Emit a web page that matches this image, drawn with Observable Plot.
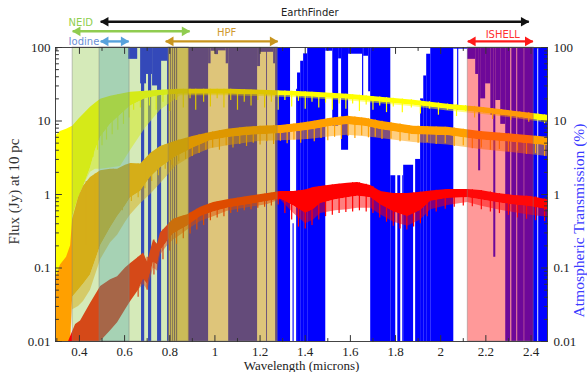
<!DOCTYPE html>
<html><head><meta charset="utf-8">
<script src="https://cdn.jsdelivr.net/npm/d3@7"></script>
<script src="https://cdn.jsdelivr.net/npm/@observablehq/plot@0.6"></script>
<style>body{margin:0;background:#fff;}</style>
</head><body><div id="chart"></div>
<script>
// ---------------- data ----------------
const xTicks = [0.4, 0.6, 0.8, 1.0, 1.2, 1.4, 1.6, 1.8, 2.0, 2.2, 2.4];
const xTickLabels = ["0.4", "0.6", "0.8", "1", "1.2", "1.4", "1.6", "1.8", "2", "2.2", "2.4"];
const xMinorTicks = [0.3, 0.5, 0.7, 0.9, 1.1, 1.3, 1.5, 1.7, 1.9, 2.1, 2.3];
const yTicks = [0.01, 0.1, 1, 10, 100];
const yTickLabels = ["0.01", "0.1", "1", "10", "100"];
const yMinorTicks = [0.02,0.03,0.04,0.05,0.06,0.07,0.08,0.09,0.2,0.3,0.4,0.5,0.6,0.7,0.8,0.9,2,3,4,5,6,7,8,9,20,30,40,50,60,70,80,90];

// instrument wavelength coverage (microns)
const instruments = ["NEID", "Iodine", "HPF", "ISHELL"];
const instStart = [0.370, 0.489, 0.795, 2.120];
const instEnd = [0.884, 0.622, 1.278, 2.412];

// annotation arrows (microns)
const arrowNames = ["EarthFinder", "NEID", "Iodine", "HPF", "ISHELL"];
const arrowFrom = [0.494, 0.370, 0.494, 0.782, 2.120];
const arrowTo = [2.390, 0.888, 0.618, 1.278, 2.408];

// atmospheric transmission (%): [w0, w1, low, high] blocks of the dense spectrum
const telluric = [
  [0.618,0.658,69,100],[0.671,0.697,32,100],[0.697,0.724,43,100],[0.724,0.759,30,100],[0.759,0.790,65,100],
  [0.675,0.689,0.01,100],[0.706,0.720,0.01,100],[0.746,0.764,0.01,100],[0.790,0.799,0.01,100],
  [0.804,0.808,0.01,100],[0.813,0.817,0.01,100],[0.821,0.826,0.01,100],[0.830,0.835,0.01,100],
  [0.884,0.972,0.01,100],[0.972,0.983,60,100],[0.983,1.003,89,100],[1.003,1.016,80,100],[1.016,1.050,90,100],[1.050,1.061,60,100],
  [1.061,1.189,0.01,100],[1.189,1.202,55,100],[1.202,1.260,86,100],[1.229,1.233,0.01,100],[1.260,1.269,60,100],
  [1.269,1.335,0.01,100],
  [1.346,1.351,0.01,0.4],[1.362,1.366,0.01,27],[1.366,1.380,0.01,45],[1.380,1.393,0.01,65],[1.393,1.411,0.01,82],[1.411,1.491,0.01,100],
  [1.491,1.522,89,100],[1.522,1.548,8.5,100],[1.548,1.561,70,100],[1.561,1.592,4,100],[1.592,1.654,81,100],[1.654,1.659,20,100],
  [1.659,1.681,76,100],[1.681,1.690,25,100],[1.690,1.779,0.01,100],
  [1.779,1.801,0.01,1.8],[1.810,1.823,0.01,1.8],[1.832,1.836,0.01,1.8],[1.836,1.880,0.01,2.5],[1.889,1.911,0.01,3],
  [1.911,1.925,0.01,20],[1.925,1.938,0.01,41],[1.938,1.956,0.01,81],[1.956,2.058,0.01,100],
  [2.058,2.120,95,100],[2.075,2.080,14,100],
  [2.120,2.155,69,100],[2.155,2.168,43,100],[2.168,2.177,2.1,100],[2.177,2.199,20,100],[2.199,2.222,32,100],[2.222,2.235,12,100],
  [2.235,2.244,0.14,100],[2.244,2.266,19,100],[2.266,2.288,9,100],[2.288,2.310,0.01,100],[2.315,2.337,0.01,100],[2.341,2.370,0.01,100],
  [2.372,2.430,0.01,100],[2.430,2.434,95,100],[2.434,2.473,0.01,100]
];

// stellar spectra (Jy): wavelength, upper envelope, lower edge of dense core, lower edge of line forest
const yellowW     = [0.294,0.316,0.343,0.361,0.370,0.396,0.423,0.449,0.471,0.494,0.538,0.582,0.627,0.693,0.759,0.848,0.937,1.070,1.202,1.335,1.437,1.588,1.734,1.880,2.031,2.177,2.323,2.473];
const yellowHi    = [6.2,7.2,7.7,8.2,8.5,10.5,12.7,15.4,17.5,19.8,21.7,23.1,24.6,25.4,26.2,27.1,27.1,27.1,26.2,25.4,24.6,23.1,21.1,19.2,16.9,15.4,13.6,12.0];
const yellowLo    = [0.01,0.01,0.01,0.01,0.5,0.9,1.4,2.3,4,6,9,12,16,20,22,23.2,23.2,23.2,22.5,21.8,21.0,19.7,18.0,16.4,14.4,13.0,11.4,9.8];
const yellowFloor = [0.01,0.01,0.01,0.01,0.3,0.9,1.4,2.0,2.2,2.2,2.3,2.4,4,8,14,22,22,22,21.5,20.8,20,18.8,17.2,15.6,13.7,12.4,10.9,9.4];

const orangeW     = [0.294,0.316,0.343,0.361,0.370,0.396,0.418,0.449,0.494,0.538,0.569,0.604,0.627,0.671,0.715,0.759,0.826,0.906,0.981,1.056,1.136,1.202,1.291,1.380,1.437,1.513,1.588,1.668,1.734,1.880,2.031,2.177,2.323,2.473];
const orangeHi    = [0.069,0.11,0.14,0.2,0.46,0.91,1.29,1.7,2.1,2.2,2.2,2.5,2.65,2.6,3.6,4.5,5.3,6.2,7.0,7.7,8.2,8.5,8.7,9.3,9.9,10.9,11.6,10.9,9.9,8.5,8.2,7.2,6.6,6.0];
const orangeLo    = [0.01,0.01,0.01,0.01,0.04,0.05,0.06,0.08,0.2,0.35,0.5,0.7,0.9,1.1,1.7,2.3,3.2,4.3,5.4,5.9,6.3,6.5,6.7,7.2,7.6,8.4,8.9,8.4,7.6,6.5,6.3,5.5,5.1,4.6];
const orangeFloor = [0.01,0.01,0.01,0.01,0.027,0.03,0.035,0.05,0.13,0.22,0.28,0.42,0.53,0.75,1.0,1.4,2.4,3.4,4.2,4.6,5.0,5.3,5.4,5.5,5.7,6.1,6.4,6.1,5.8,5.1,4.7,4.1,3.7,3.3];

const redW     = [0.352,0.383,0.405,0.449,0.494,0.538,0.569,0.604,0.627,0.662,0.684,0.702,0.728,0.746,0.759,0.790,0.817,0.848,0.879,0.937,0.994,1.056,1.145,1.234,1.291,1.349,1.402,1.437,1.468,1.535,1.588,1.632,1.690,1.734,1.792,1.854,1.911,1.956,2.031,2.120,2.177,2.253,2.323,2.399,2.473];
const redHi    = [0.01,0.017,0.019,0.033,0.056,0.069,0.076,0.10,0.115,0.14,0.16,0.12,0.24,0.21,0.30,0.38,0.46,0.50,0.53,0.67,0.78,0.85,0.94,1.03,1.10,1.10,1.15,1.25,1.28,1.37,1.42,1.46,1.33,1.10,1.03,1.03,1.07,1.12,1.17,1.17,1.13,1.03,0.97,0.94,0.85];
const redLo    = [0.01,0.01,0.01,0.01,0.01,0.014,0.018,0.027,0.035,0.05,0.07,0.06,0.12,0.11,0.17,0.23,0.29,0.33,0.37,0.5,0.58,0.65,0.72,0.8,0.86,0.7,0.55,0.62,0.75,0.85,0.9,0.95,0.9,0.72,0.58,0.5,0.6,0.8,0.88,0.9,0.85,0.77,0.72,0.68,0.62];
const redFloor = [0.01,0.01,0.01,0.01,0.01,0.014,0.018,0.027,0.035,0.05,0.06,0.05,0.10,0.09,0.15,0.20,0.24,0.28,0.33,0.43,0.50,0.59,0.66,0.73,0.85,0.55,0.40,0.45,0.55,0.60,0.62,0.65,0.65,0.53,0.42,0.37,0.45,0.62,0.71,0.78,0.70,0.62,0.57,0.52,0.49];

// absorption lines: [w, top, bottom] in Jy
const yellowLines = [[0.40,10.5,1.0],[0.415,11.5,1.6],[0.43,13,2.0],[0.445,14.5,2.6],[0.46,16,3.2],[0.48,18,4.0],[0.50,19.5,4.6],[0.52,20.5,5.5],[0.545,21.5,6.5],[0.57,22.5,7.5],[0.595,23,9],[0.62,24,11],[0.64,24.5,14],[0.67,25,15],[0.71,25.5,16],
  [0.74,26,14],[0.77,26.3,18],[0.80,26.6,13.5],[0.83,27,19],[0.86,27,15],[0.89,27,20],[0.915,27,14],[0.95,27,18],[0.98,27,15.5],[1.01,27,20],[1.04,27,15],[1.07,27,19],[1.10,26.8,14],[1.13,26.7,18],[1.16,26.5,16],[1.19,26.3,19],[1.22,26,15],[1.25,25.8,18],[1.28,25.6,14],[1.31,25.5,19],[1.34,25.4,15.5],[1.37,25.2,18.5],[1.40,25,14.5],[1.43,24.7,18],[1.46,24.4,15],[1.49,24.1,17.5],[1.52,23.8,14],[1.55,23.5,17],[1.58,23.2,14.5],[1.61,22.8,17],[1.64,22.4,13.5],[1.67,22,16.5],[1.70,21.6,14],[1.73,21.2,16],[1.76,20.8,13],[1.79,20.4,15.5],[1.83,19.9,13],[1.87,19.4,15],[1.91,18.9,12.5],[1.95,18.3,14.5],[1.99,17.6,12],[2.03,17,14],[2.07,16.6,11.5],[2.11,16.2,13.5],[2.15,15.8,11],[2.19,15.3,12.8],[2.23,14.8,10.5],[2.27,14.3,12],[2.31,13.8,10.2],[2.35,13.3,11],[2.39,12.9,9.6],[2.43,12.5,10.3],[2.46,12.1,9.2]];
const orangeLines = [[0.43,1.5,0.2],[0.47,1.9,0.3],[0.51,2.1,0.4],[0.55,2.2,0.5],[0.59,2.3,0.6],[0.63,2.6,0.8],[0.66,2.6,0.9],[0.69,3.0,1.2],[0.72,3.7,1.5],[0.75,4.3,1.8],[0.78,4.7,2.2],[0.81,5.1,2.5],[0.84,5.5,2.8],[0.87,5.8,3.0],[0.90,6.1,3.3],[0.93,6.5,3.6],[0.96,6.8,4.0],[0.99,7.1,4.3],[1.02,7.4,4.0],[1.05,7.6,4.6],[1.08,7.8,4.3],[1.11,8.0,4.8],[1.14,8.2,4.5],[1.17,8.3,5.0],[1.20,8.5,4.7],[1.23,8.6,5.2],[1.26,8.6,4.8],[1.29,8.7,5.3],[1.32,8.9,4.9],[1.35,9.1,5.5],[1.38,9.3,5.0],[1.41,9.6,5.6],[1.44,9.9,5.2],[1.47,10.3,5.8],[1.50,10.7,5.4],[1.53,11.1,6.0],[1.56,11.4,5.6],[1.59,11.6,6.2],[1.62,11.3,5.8],[1.65,11.0,6.3],[1.68,10.7,5.9],[1.71,10.3,6.0],[1.74,9.9,5.6],[1.78,9.5,5.7],[1.82,9.1,5.2],[1.86,8.7,5.4],[1.90,8.5,5.0],[1.94,8.4,5.1],[1.98,8.3,4.8],[2.02,8.2,4.9],[2.06,8.0,4.5],[2.10,7.7,4.6],[2.14,7.4,4.2],[2.18,7.2,4.3],[2.22,7.0,4.0],[2.26,6.8,4.1],[2.30,6.7,3.8],[2.34,6.5,3.9],[2.38,6.3,3.5],[2.42,6.2,3.6],[2.46,6.0,3.3]];
const redLines = [[0.66,0.14,0.04],[0.70,0.14,0.05],[0.73,0.24,0.08],[0.77,0.33,0.13],[0.80,0.41,0.17],[0.83,0.47,0.21],[0.86,0.51,0.25],[0.89,0.56,0.29],[0.92,0.63,0.33],[0.95,0.69,0.38],[0.98,0.75,0.44],[1.01,0.79,0.48],[1.04,0.83,0.50],[1.07,0.86,0.55],[1.10,0.89,0.57],[1.13,0.92,0.60],[1.16,0.95,0.62],[1.19,0.98,0.65],[1.22,1.01,0.67],[1.25,1.04,0.70],[1.28,1.08,0.72],[1.31,1.10,0.55],[1.34,1.10,0.45],[1.37,1.12,0.36],[1.40,1.15,0.34],[1.43,1.22,0.38],[1.46,1.27,0.45],[1.49,1.31,0.50],[1.52,1.35,0.52],[1.55,1.38,0.55],[1.58,1.41,0.57],[1.61,1.44,0.58],[1.64,1.44,0.60],[1.67,1.38,0.58],[1.70,1.28,0.55],[1.73,1.12,0.48],[1.76,1.06,0.42],[1.79,1.03,0.37],[1.82,1.03,0.34],[1.85,1.03,0.33],[1.88,1.05,0.36],[1.91,1.07,0.40],[1.94,1.10,0.50],[1.98,1.14,0.58],[2.02,1.16,0.63],[2.06,1.17,0.67],[2.10,1.17,0.70],[2.14,1.16,0.68],[2.18,1.13,0.62],[2.22,1.08,0.58],[2.26,1.03,0.55],[2.30,0.99,0.52],[2.34,0.96,0.48],[2.38,0.95,0.46],[2.42,0.93,0.44],[2.46,0.88,0.43]];

// ---------------- styles ----------------
const serif = "'Liberation Serif', 'Times New Roman', serif";
const sans = "'DejaVu Sans', Verdana, sans-serif";
const instStyle = {
  NEID:   {fill: "#8cc540", op: 0.37},
  Iodine: {fill: "#46a0aa", op: 0.33},
  HPF:    {fill: "#c09000", op: 0.52},
  ISHELL: {fill: "#ff1212", op: 0.43}
};
const arrowStyle = {
  EarthFinder: {color: "#111111", level: 224, tx: 1.420, ty: 299, anchor: "middle", text: "#222222"},
  NEID:   {color: "#90cc50", level: 166, tx: 0.352, ty: 215, anchor: "start", text: "#8fcf4f"},
  Iodine: {color: "#58a2dc", level: 121, tx: 0.352, ty: 121, anchor: "start", text: "#6b8fd6"},
  HPF:    {color: "#c8951e", level: 121, tx: 1.052, ty: 157, anchor: "middle", text: "#cf9a30"},
  ISHELL: {color: "#ff1a1a", level: 121, tx: 2.275, ty: 150, anchor: "middle", text: "#ff3030"}
};

const band = (w, hi, lo) => w.map((x, i) => ({w: x, hi: hi[i], lo: lo[i]}));
const spectrum = (w, hi, lo, floor, lines, color) => [
  Plot.areaY(band(w, lo, floor), {x: "w", y1: "lo", y2: "hi", fill: color, fillOpacity: 0.5}),
  Plot.areaY(band(w, hi, lo), {x: "w", y1: "lo", y2: "hi", fill: color}),
  Plot.ruleX(lines, {x: d => d[0], y1: d => d[1], y2: d => d[2], stroke: color, strokeWidth: 1.2})
];
const tickShape = {draw(ctx, l) { ctx.moveTo(0, 0); ctx.lineTo(0, -l); }};
const tickMarks = (data, ch, frameAnchor, rotate, length) =>
  Plot.vector(data, {[ch]: d => d, frameAnchor, rotate, length, anchor: "start", shape: tickShape, stroke: "#333", strokeWidth: 1});

const chart = Plot.plot({
  width: 587, height: 372,
  marginTop: 47, marginRight: 40, marginBottom: 31, marginLeft: 55,
  x: {domain: [0.294, 2.473], axis: null},
  y: {type: "log", domain: [0.01, 100], axis: null},
  style: {background: "white", overflow: "visible"},
  marks: [
    Plot.rect(telluric, {x1: d => d[0], x2: d => d[1], y1: d => d[2], y2: d => d[3], fill: "#0000ff"}),
    ...spectrum(yellowW, yellowHi, yellowLo, yellowFloor, yellowLines, "#ffff00"),
    ...spectrum(orangeW, orangeHi, orangeLo, orangeFloor, orangeLines, "#ffa000"),
    ...spectrum(redW, redHi, redLo, redFloor, redLines, "#ff0000"),
    ...instruments.map((name, i) => Plot.rect([name], {
      x1: instStart[i], x2: instEnd[i], y1: 0.01, y2: 100,
      fill: instStyle[name].fill, fillOpacity: instStyle[name].op,
      stroke: "#808080", strokeOpacity: 0.45, strokeWidth: 1
    })),
    Plot.frame({stroke: "#444", strokeWidth: 1}),
    tickMarks(yTicks, "y", "left", 90, 6),
    tickMarks(yMinorTicks, "y", "left", 90, 3),
    tickMarks(yTicks, "y", "right", -90, 6),
    tickMarks(yMinorTicks, "y", "right", -90, 3),
    tickMarks(xTicks, "x", "bottom", 0, 6),
    tickMarks(xMinorTicks, "x", "bottom", 0, 3),
    tickMarks(xTicks, "x", "top", 180, 6),
    tickMarks(xMinorTicks, "x", "top", 180, 3),
    Plot.text(yTicks, {y: d => d, text: (d, i) => yTickLabels[i], frameAnchor: "left", dx: -5, textAnchor: "end", lineAnchor: "middle", fontSize: 13, fontFamily: serif, fill: "#222"}),
    Plot.text(yTicks, {y: d => d, text: (d, i) => yTickLabels[i], frameAnchor: "right", dx: 6, textAnchor: "start", lineAnchor: "middle", fontSize: 13, fontFamily: serif, fill: "#222"}),
    Plot.text(xTicks, {x: d => d, text: (d, i) => xTickLabels[i], frameAnchor: "bottom", dy: 10, lineAnchor: "middle", textAnchor: "middle", fontSize: 13, fontFamily: serif, fill: "#222"}),
    Plot.text(["Wavelength (microns)"], {text: d => d, frameAnchor: "bottom", dy: 24, lineAnchor: "middle", textAnchor: "middle", fontSize: 13, fontFamily: serif, fill: "#222"}),
    Plot.text(["Flux (Jy) at 10 pc"], {text: d => d, frameAnchor: "left", dx: -41, dy: -3, rotate: -90, textAnchor: "middle", lineAnchor: "middle", fontSize: 15, fontFamily: serif, fill: "#333"}),
    Plot.text(["Atmospheric Transmission (%)"], {text: d => d, frameAnchor: "right", dx: 32, dy: 26, rotate: -90, textAnchor: "middle", lineAnchor: "middle", fontSize: 15.5, fontFamily: serif, fill: "#3b3bff"}),
    ...arrowNames.flatMap((name, i) => {
      const s = arrowStyle[name];
      return [
        Plot.link([name], {x1: arrowFrom[i], x2: arrowTo[i], y1: s.level, y2: s.level, stroke: s.color, strokeWidth: 2.4}),
        Plot.dot([name], {x: arrowTo[i], y: s.level, symbol: "triangle", r: 3.6, rotate: 90, dx: -5, fill: s.color, stroke: "none"}),
        Plot.dot([name], {x: arrowFrom[i], y: s.level, symbol: "triangle", r: 3.6, rotate: -90, dx: 5, fill: s.color, stroke: "none"}),
        Plot.text([name], {x: s.tx, y: s.ty, text: d => d, textAnchor: s.anchor, fill: s.text, fontSize: 10, fontFamily: sans})
      ];
    })
  ]
});
document.getElementById("chart").appendChild(chart);
</script>
</body></html>
